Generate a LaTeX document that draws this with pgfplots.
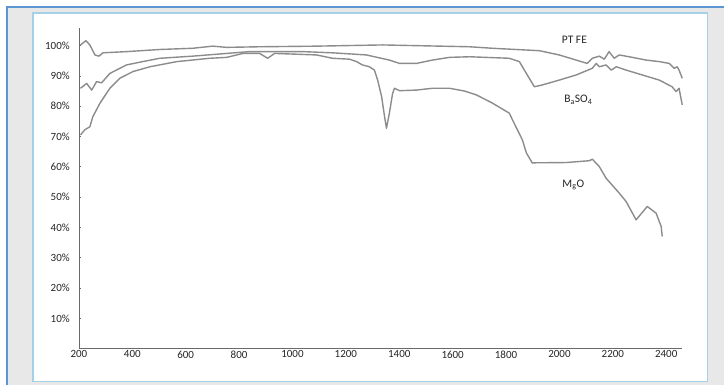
\documentclass[border=0pt]{standalone}
\usepackage{pgfplots}
\pgfplotsset{compat=1.18}
\usepackage{fontspec}
\setmainfont{Carlito}
\definecolor{outerblue}{RGB}{91,150,210}
\definecolor{innerblue}{RGB}{165,208,232}
\definecolor{bggray}{RGB}{232,232,232}
\definecolor{curvegray}{RGB}{140,140,140}
\definecolor{axisgray}{RGB}{105,105,105}
\pgfplotsset{spec/.style={color=curvegray, line width=1.4pt, line join=round, mark=none}}
\begin{document}
\begin{tikzpicture}
\fill[white] (0pt,0pt) rectangle (725pt,385pt);
\fill[bggray] (7pt,0pt) rectangle (725pt,378pt);
\draw[outerblue, line width=1.6pt] (7pt,0pt) -- (7pt,378pt) -- (725pt,378pt);
\fill[white] (33pt,3pt) rectangle (708pt,372pt);
\draw[innerblue, line width=1.4pt] (33pt,3pt) rectangle (708pt,372pt);
\begin{axis}[
  at={(79pt,36pt)}, anchor=south west,
  scale only axis, width=604pt, height=321pt,
  xmin=200, xmax=2460, ymin=0, ymax=105.8,
  axis lines=left,
  axis line style={-, axisgray},
  x axis line style={line width=1.3pt},
  y axis line style={line width=0.8pt},
  xtick={200,400,...,2400},
  ytick={10,20,...,100},
  yticklabel={\pgfmathprintnumber{\tick}\%},
  tick style={axisgray, line width=0.6pt},
  xtick style={draw=none},
  major tick length=2pt,
  tick align=inside,
  /pgf/number format/assume math mode=true,
  /pgf/number format/1000 sep={},
  ticklabel style={font=\fontsize{11}{13}\selectfont, text=black!85},
  xticklabel style={inner sep=0pt, yshift=-2pt},
  yticklabel style={inner sep=0pt, xshift=-9pt},
  clip=false,
]
% PTFE
\addplot[spec] coordinates {
(206,100.2) (226,101.6) (241,100.2) (260,96.9) (275,96.5) (290,97.6) (380,98.0)
(503,98.7) (626,99.1) (701,99.8) (754,99.4) (877,99.6) (1090,99.8) (1337,100.2)
(1663,99.6) (1749,99.1) (1925,98.3) (1999,96.9) (2063,95.2) (2104,94.1)
(2123,95.8) (2149,96.5) (2168,95.5) (2186,98.0) (2205,95.8) (2224,96.9)
(2273,96.1) (2325,95.2) (2374,94.7) (2411,94.1) (2430,92.5) (2441,93.0)
(2448,91.9) (2460,89.2)
};
% BaSO4
\addplot[spec] coordinates {
(206,85.9) (229,87.5) (248,85.3) (266,88.1) (285,87.7) (316,90.8) (378,93.6)
(439,94.7) (503,95.8) (626,96.5) (754,97.4) (840,98.0) (1038,98.0) (1150,97.6)
(1277,96.9) (1363,95.2) (1401,94.1) (1464,94.1) (1524,95.2) (1588,96.1)
(1663,96.3) (1812,95.8) (1850,94.7) (1876,90.8) (1906,86.4) (1936,87.0)
(1999,88.6) (2063,90.3) (2123,92.5) (2138,94.1) (2149,93.0) (2175,93.6)
(2194,91.9) (2213,93.0) (2250,91.9) (2310,90.3) (2374,88.6) (2422,86.4)
(2437,84.8) (2448,85.9) (2460,80.4)
};
% MgO
\addplot[spec] coordinates {
(206,70.5) (222,72.2) (241,73.2) (252,76.5) (279,81.0) (316,85.9) (353,89.2)
(402,91.4) (466,93.0) (567,94.7) (690,95.8) (754,96.1) (814,97.4) (877,97.4)
(907,95.8) (933,97.4) (1090,96.9) (1150,95.8) (1214,95.5) (1240,94.7)
(1262,93.6) (1288,93.0) (1307,91.9) (1319,88.6) (1334,83.1) (1345,76.5)
(1352,72.7) (1363,77.7) (1375,84.2) (1382,85.9) (1401,85.1) (1464,85.3)
(1524,85.9) (1588,85.9) (1644,85.0) (1689,83.7) (1749,81.0) (1812,77.7)
(1824,75.5) (1861,68.9) (1876,64.6) (1898,61.3) (2026,61.4) (2112,62.0)
(2123,62.5) (2149,60.1) (2175,56.2) (2224,51.3) (2250,48.5) (2287,42.5)
(2329,46.9) (2362,44.7) (2381,40.3) (2385,37.0)
};
\node[font=\fontsize{11.5}{13}\selectfont, text=black!85] at (axis cs:2056,101.8) {PT FE};
\node[font=\fontsize{11.5}{13}\selectfont, text=black!85] at (axis cs:2071,82.0) {B\textsubscript{a}SO\textsubscript{4}};
\node[font=\fontsize{11.5}{13}\selectfont, text=black!85] at (axis cs:2052,54.0) {M\textsubscript{g}O};
\end{axis}
\end{tikzpicture}
\end{document}
